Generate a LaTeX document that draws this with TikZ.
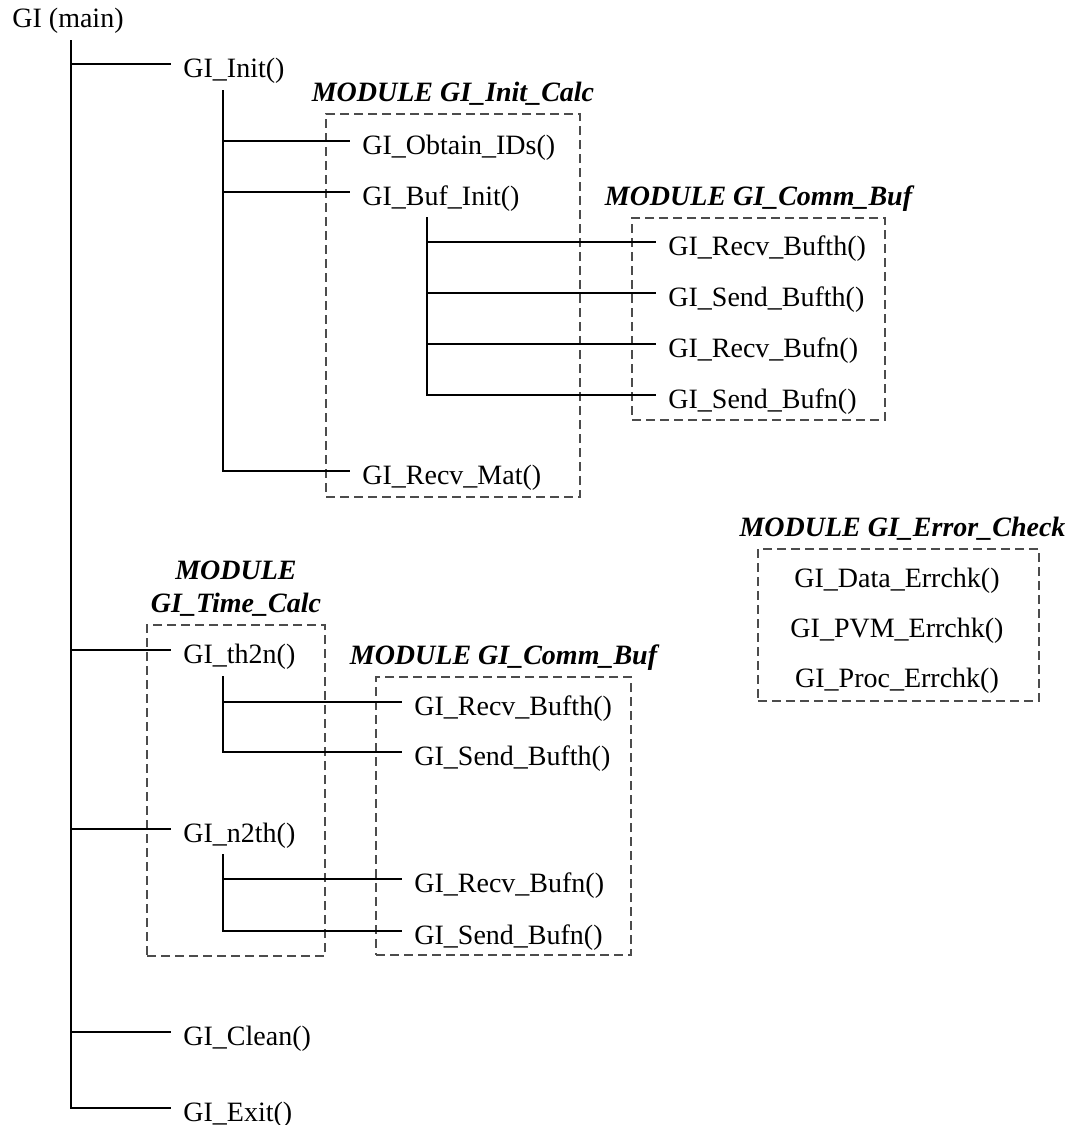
\documentclass[tikz,border=0pt]{standalone}
\usepackage{fontspec}
\setmainfont{Liberation Serif}
\usetikzlibrary{fit}
\begin{document}
\begin{tikzpicture}[x=0.5pt,y=-0.5pt,
  conn/.style={line width=1.4pt},
  fn/.style={anchor=west, font=\fontsize{14}{16.5}\selectfont, inner xsep=6pt, inner ysep=0pt, text height=13pt, text depth=0pt},
  fnc/.style={fn, anchor=center},
  modbox/.style={draw=black!70, line width=0.75pt, dash pattern=on 4.5pt off 2.5pt, inner sep=0pt},
  modtitle/.style={font=\fontsize{14}{16.5}\selectfont\bfseries\itshape, anchor=base, inner sep=0pt, align=center}
]
\useasboundingbox (0,0) rectangle (1068,1125);

% boxes
\node[modbox, fit={(326,114) (580,497)}] (icbox) {};
\node[modtitle] (ictitle) at ([yshift=6pt]icbox.north) {MODULE GI\_Init\_Calc};
\node[modbox, fit={(632,218) (885,420)}] (cb1) {};
\node[modtitle] (cb1title) at ([yshift=6pt]cb1.north) {MODULE GI\_Comm\_Buf};
\node[modbox, fit={(758,549) (1039,701)}] (ecbox) {};
\node[modtitle] (ectitle) at ([yshift=6pt,xshift=2pt]ecbox.north) {MODULE GI\_Error\_Check};
\node[modbox, fit={(147,625) (325,956)}] (tcbox) {};
\node[modtitle] (tctitle) at ([yshift=6pt]tcbox.north) {MODULE\\GI\_Time\_Calc};
\node[modbox, fit={(376,677) (631,955)}] (cb2) {};
\node[modtitle] (cb2title) at ([yshift=6pt]cb2.north) {MODULE GI\_Comm\_Buf};

% main
\node[anchor=base west, font=\fontsize{14}{16.5}\selectfont, inner sep=0pt] (main) at (12,27) {GI (main)};
\coordinate (t0) at (71,40);
\node[fn] (init) at (171,64) {GI\_Init()};
\node[fn] (th2n) at (171,650) {GI\_th2n()};
\node[fn] (n2th) at (171,829) {GI\_n2th()};
\node[fn] (clean) at (171,1032) {GI\_Clean()};
\node[fn] (exit) at (171,1108) {GI\_Exit()};

% GI_Init children
\coordinate (t1) at (223,90);
\node[fn] (obtain) at (350,141) {GI\_Obtain\_IDs()};
\node[fn] (bufinit) at (350,192) {GI\_Buf\_Init()};
\node[fn] (recvmat) at (350,471) {GI\_Recv\_Mat()};

% GI_Buf_Init children
\coordinate (t2) at (427,217);
\node[fn] (rbth1) at (656,242) {GI\_Recv\_Bufth()};
\node[fn] (sbth1) at (656,293) {GI\_Send\_Bufth()};
\node[fn] (rbn1) at (656,344) {GI\_Recv\_Bufn()};
\node[fn] (sbn1) at (656,395) {GI\_Send\_Bufn()};

% GI_th2n children
\coordinate (t3) at (223,676);
\node[fn] (rbth2) at (402,702) {GI\_Recv\_Bufth()};
\node[fn] (sbth2) at (402,752) {GI\_Send\_Bufth()};

% GI_n2th children
\coordinate (t4) at (223,854);
\node[fn] (rbn2) at (402,879) {GI\_Recv\_Bufn()};
\node[fn] (sbn2) at (402,931) {GI\_Send\_Bufn()};

% error check
\node[fnc] (dataerr) at (897,574) {GI\_Data\_Errchk()};
\node[fnc] (pvmerr) at (897,624) {GI\_PVM\_Errchk()};
\node[fnc] (procerr) at (897,674) {GI\_Proc\_Errchk()};

% connectors
\draw[conn] (t0) |- (exit.west);
\foreach \n in {init,th2n,n2th,clean} \draw[conn] (t0 |- \n.west) -- (\n.west);
\draw[conn] (t1) |- (recvmat.west);
\foreach \n in {obtain,bufinit} \draw[conn] (t1 |- \n.west) -- (\n.west);
\draw[conn] (t2) |- (sbn1.west);
\foreach \n in {rbth1,sbth1,rbn1} \draw[conn] (t2 |- \n.west) -- (\n.west);
\draw[conn] (t3) |- (sbth2.west);
\draw[conn] (t3 |- rbth2.west) -- (rbth2.west);
\draw[conn] (t4) |- (sbn2.west);
\draw[conn] (t4 |- rbn2.west) -- (rbn2.west);
\end{tikzpicture}
\end{document}
